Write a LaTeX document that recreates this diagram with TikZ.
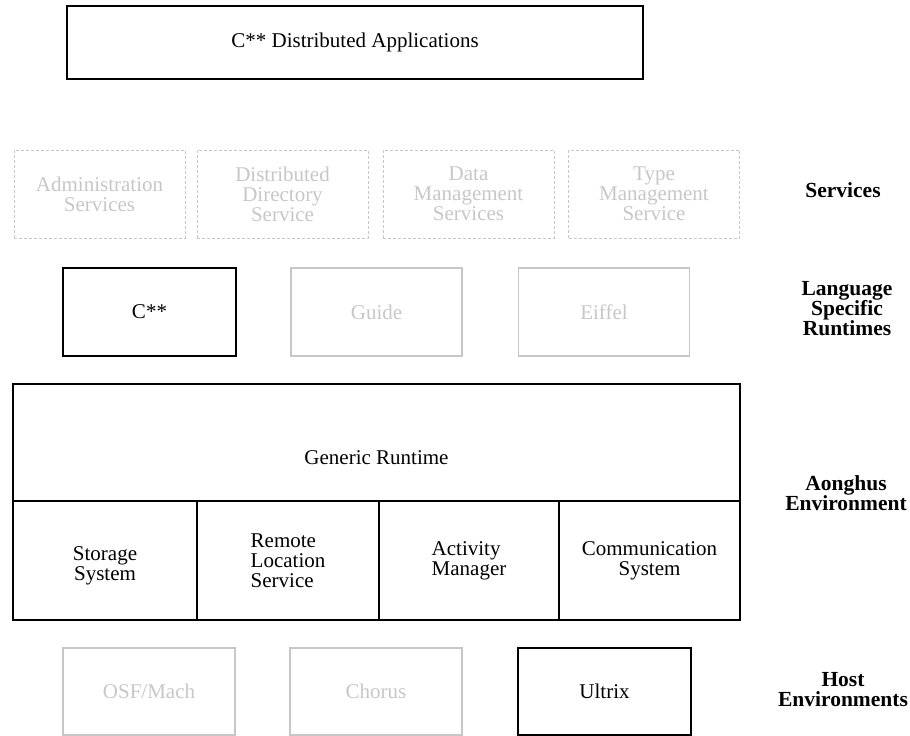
\documentclass[tikz,border=0pt]{standalone}
\usepackage{fontspec}
\setmainfont{Liberation Serif}
\usepackage{tikz}
\usetikzlibrary{calc}
\tikzstyle{layerbox}=[draw,line width=2.5pt,inner sep=0pt,align=center,font=\fontsize{21}{20}\selectfont]
\tikzstyle{greybox}=[layerbox,draw=black!22,text=black!22,line width=1.5pt]
\tikzstyle{dashbox}=[greybox,line width=1pt,dash pattern=on 3pt off 2pt]
\tikzstyle{cellbox}=[layerbox,line width=2.2pt]
\tikzstyle{layerlabel}=[align=center,font=\fontsize{21.5}{20}\selectfont\bfseries]

\begin{document}
\begin{tikzpicture}[x=1pt,y=-1pt]

   \useasboundingbox (0,0) rectangle (910,736);

   % applications on top
   \node[layerbox,minimum width=576pt,minimum height=73pt] (apps) at (355,42.5) {C** Distributed Applications};

   % services
   \foreach \pos/ \name / \label in {{(99.5,194)/admin/{Administration\\Services}},
        {(282.5,194)/directory/{Distributed\\Directory\\Service}},
        {(468.5,194)/datamgmt/{Data\\Management\\Services}},
        {(654,194)/typemgmt/{Type\\Management\\Service}}}
        \node[dashbox,minimum width=171pt,minimum height=88pt] (\name) at \pos {\label};

   % language specific runtimes
   \node[layerbox,minimum width=173pt,minimum height=88pt] (cstar) at (149.5,312) {C**};
   \foreach \pos/ \name / \label in {{(376.5,312)/guide/Guide}, {(604,312)/eiffel/Eiffel}}
        \node[greybox,minimum width=171pt,minimum height=88pt] (\name) at \pos {\label};

   % aonghus environment
   \node[cellbox,minimum width=727pt,minimum height=117pt] (generic) at (376.5,442.5) {};
   \node[layerbox,draw=none] (generictext) at ($(generic.center)+(0,15)$) {Generic Runtime};
   \node[cellbox,minimum width=184pt,minimum height=119pt] (storage) at (105,560.5) {};
   \node[layerbox,draw=none] (storagetext) at ($(storage.center)+(0,5)$) {Storage\\System};
   \node[cellbox,minimum width=182pt,minimum height=119pt,align=left] (remote) at (288,560.5) {Remote\\Location\\Service};
   \node[cellbox,minimum width=180pt,minimum height=119pt,align=left] (activity) at (469,560.5) {Activity\\Manager};
   \node[cellbox,minimum width=181pt,minimum height=119pt] (comm) at (649.5,560.5) {Communication\\System};

   % host environments
   \foreach \pos/ \name / \label in {{(149,691.5)/osfmach/{OSF/Mach}}, {(376,691.5)/chorus/Chorus}}
        \node[greybox,minimum width=172pt,minimum height=87pt] (\name) at \pos {\label};
   \node[layerbox,minimum width=173pt,minimum height=87pt] (ultrix) at (604.5,691.5) {Ultrix};

   % layer names
   \node[layerlabel] (lservices) at (843,190) {Services};
   \node[layerlabel] (lruntimes) at (847,309) {Language\\Specific\\Runtimes};
   \node[layerlabel] (laonghus) at (846,493) {Aonghus\\Environment};
   \node[layerlabel] (lhost) at (843,690) {Host\\Environments};

\end{tikzpicture}
\end{document}
